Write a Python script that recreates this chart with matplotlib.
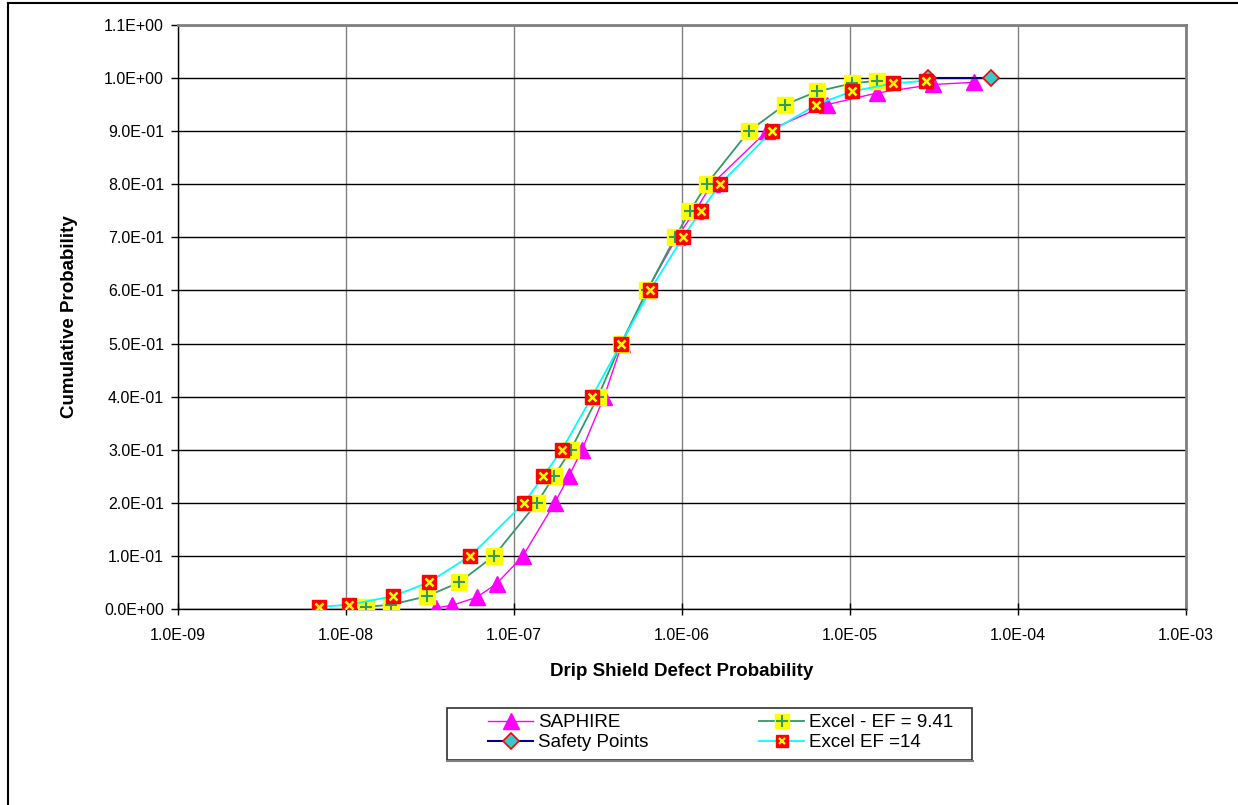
import matplotlib.pyplot as plt
from matplotlib.lines import Line2D
from matplotlib.patches import Rectangle
from matplotlib.legend_handler import HandlerTuple
import numpy as np

plt.rcParams['font.family'] = ['Liberation Sans', 'DejaVu Sans']

# cumulative probability levels
cum_prob = [0.004, 0.008, 0.024, 0.05, 0.1, 0.2, 0.25, 0.3, 0.4, 0.5,
            0.6, 0.7, 0.75, 0.8, 0.9, 0.95, 0.975, 0.99, 0.995]

# defect probability per series
saphire_x = [3.43e-8, 4.28e-8, 6.0e-8, 7.9e-8, 1.13e-7, 1.75e-7, 2.12e-7, 2.54e-7,
             3.44e-7, 4.4e-7, 6.2e-7, 9.3e-7, 1.2e-6, 1.5e-6, 3.2e-6, 7.3e-6,
             1.45e-5, 3.12e-5, 5.5e-5]
saphire_y = [0.002, 0.007, 0.022, 0.048, 0.1, 0.2, 0.25, 0.3, 0.4, 0.5,
             0.6, 0.7, 0.75, 0.8, 0.9, 0.95, 0.972, 0.988, 0.992]

ef941_x = [1.31e-8, 1.85e-8, 3.03e-8, 4.71e-8, 7.6e-8, 1.37e-7, 1.73e-7, 2.18e-7,
           3.16e-7, 4.34e-7, 6.2e-7, 9.1e-7, 1.12e-6, 1.4e-6, 2.5e-6, 4.1e-6,
           6.4e-6, 1.03e-5, 1.45e-5]

ef14_x = [6.9e-9, 1.04e-8, 1.9e-8, 3.1e-8, 5.5e-8, 1.15e-7, 1.49e-7, 1.93e-7,
          2.91e-7, 4.34e-7, 6.45e-7, 1.01e-6, 1.30e-6, 1.68e-6, 3.43e-6, 6.3e-6,
          1.03e-5, 1.80e-5, 2.83e-5]

safety_x = [2.9e-5, 6.9e-5]
safety_y = [1.0, 1.0]

labels = ['SAPHIRE', 'Safety Points', 'Excel - EF = 9.41', 'Excel EF =14']

W, H = 1238, 805
fig = plt.figure(figsize=(W/100, H/100), dpi=100)
ax = fig.add_axes([178/W, 1-609/H, (1186-178)/W, (609-25)/H])

ax.plot(saphire_x, saphire_y, color='#FF00FF', linewidth=1, marker='^',
        markersize=11, markerfacecolor='#FF00FF', markeredgecolor='#FF00FF', zorder=3)
ax.plot(safety_x, safety_y, color='#000080', linewidth=1.5, marker='D',
        markersize=8, markerfacecolor='#33CCCC', markeredgecolor='#FF0000',
        markeredgewidth=1.2, zorder=3)
ax.plot(ef941_x, cum_prob, color='#339966', linewidth=1.3, marker='s',
        markersize=11.5, markerfacecolor='#FFFF00', markeredgecolor='#FFFF00', zorder=4)
ax.plot(ef941_x, cum_prob, linestyle='none', marker='+', markersize=9,
        markeredgecolor='#339966', markeredgewidth=1.5, zorder=4)
ax.plot(ef14_x, cum_prob, color='#00FFFF', linewidth=1.3, marker='s',
        markersize=9.5, markerfacecolor='#FF0000', markeredgecolor='#FF0000', zorder=5)
ax.plot(ef14_x, cum_prob, linestyle='none', marker='x', markersize=5.5,
        markeredgecolor='#FFFF00', markeredgewidth=1.8, zorder=5)

ax.set_xscale('log')
ax.set_xlim(1e-9, 1e-3)
ax.set_ylim(0, 1.1)
ax.set_xticks([10.0**k for k in range(-9, -2)])
ax.set_xticklabels(['1.0E-%02d' % k for k in range(9, 2, -1)])
ax.minorticks_off()
yt = np.round(np.arange(0, 1.11, 0.1), 1)
ax.set_yticks(yt)
ax.set_yticklabels(['%.1E' % v for v in yt])
ax.tick_params(axis='both', labelsize=11.5, length=5, width=1, colors='black')
ax.tick_params(axis='x', direction='inout', pad=10, length=8)
ax.tick_params(axis='y', direction='out', pad=5)

ax.grid(axis='y', color='black', linewidth=1)
ax.grid(axis='x', color='#808080', linewidth=1)
ax.set_axisbelow(True)
for s in ['top', 'right']:
    ax.spines[s].set_color('#808080')
    ax.spines[s].set_linewidth(2)
for s in ['left', 'bottom']:
    ax.spines[s].set_color('black')
    ax.spines[s].set_linewidth(1)

ax.set_xlabel('Drip Shield Defect Probability', fontsize=13.5, fontweight='bold', labelpad=14)
ax.set_ylabel('Cumulative Probability', fontsize=13.5, fontweight='bold', labelpad=19)

# legend
h_sap = Line2D([], [], color='#FF00FF', linewidth=1, marker='^', markersize=11,
               markerfacecolor='#FF00FF', markeredgecolor='#FF00FF')
h_saf = Line2D([], [], color='#000080', linewidth=1.5, marker='D', markersize=8,
               markerfacecolor='#33CCCC', markeredgecolor='#FF0000', markeredgewidth=1.2)
h_941 = (Line2D([], [], color='#339966', linewidth=1.3, marker='s', markersize=10,
                markerfacecolor='#FFFF00', markeredgecolor='#FFFF00'),
         Line2D([], [], linestyle='none', marker='+', markersize=8,
                markeredgecolor='#339966', markeredgewidth=1.5))
h_14 = (Line2D([], [], color='#00FFFF', linewidth=1.3, marker='s', markersize=8,
               markerfacecolor='#FF0000', markeredgecolor='#FF0000'),
        Line2D([], [], linestyle='none', marker='x', markersize=5,
               markeredgecolor='#FFFF00', markeredgewidth=1.6))
leg = fig.legend([h_sap, h_saf, h_941, h_14], labels,
                 handler_map={tuple: HandlerTuple(ndivide=1)},
                 ncol=2, loc='upper left', bbox_to_anchor=(488/W, 1-714/H),
                 fontsize=13.5, frameon=False,
                 borderpad=0, labelspacing=0.16, handlelength=2.4,
                 handletextpad=0.27, columnspacing=5.9, borderaxespad=0)

fig.add_artist(Rectangle((447/W, 1-760/H), (972-447)/W, 52/H, transform=fig.transFigure,
                         fill=False, edgecolor='#303030', linewidth=1.2))
fig.add_artist(Line2D([447/W, 973/W], [1-761/H, 1-761/H], color='#808080', linewidth=1.5,
                      transform=fig.transFigure))

# outer chart border
fig.add_artist(Line2D([8/W, 8/W], [0, 1-3/H], color='black', linewidth=1.5,
                      transform=fig.transFigure))
fig.add_artist(Line2D([8/W, 1], [1-3/H, 1-3/H], color='black', linewidth=1.5,
                      transform=fig.transFigure))

fig.savefig('out.png', dpi=100, facecolor='white')
